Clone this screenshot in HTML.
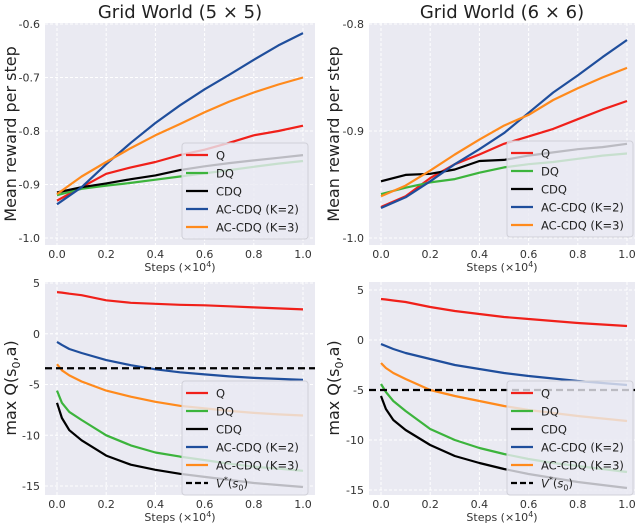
<!DOCTYPE html>
<html><head><meta charset="utf-8"><style>
body{margin:0;background:#fff}
svg{display:block;font-family:"DejaVu Sans","Liberation Sans",sans-serif}
</style></head><body>
<svg id="c" width="640" height="526" viewBox="0 0 640 526"></svg>
<script>
const topSteps=[0,0.1,0.2,0.3,0.4,0.5,0.6,0.7,0.8,0.9,1.0];
const botSteps=[0,0.02,0.05,0.1,0.2,0.3,0.4,0.5,0.6,0.7,0.8,0.9,1.0];
const xTickLabels=["0.0","0.2","0.4","0.6","0.8","1.0"];
const seriesNames=["Q","DQ","CDQ","AC-CDQ (K=2)","AC-CDQ (K=3)"];
// top-left Grid World 5x5
const tl_Q=[-0.93,-0.905,-0.88,-0.868,-0.858,-0.845,-0.835,-0.822,-0.808,-0.8,-0.79];
const tl_DQ=[-0.92,-0.908,-0.902,-0.897,-0.891,-0.885,-0.879,-0.873,-0.867,-0.861,-0.856];
const tl_CDQ=[-0.915,-0.905,-0.898,-0.89,-0.883,-0.873,-0.866,-0.86,-0.855,-0.85,-0.845];
const tl_AC2=[-0.937,-0.905,-0.862,-0.822,-0.785,-0.752,-0.722,-0.695,-0.667,-0.64,-0.617];
const tl_AC3=[-0.918,-0.885,-0.858,-0.832,-0.808,-0.787,-0.765,-0.745,-0.728,-0.713,-0.7];
const tl_yTicks=["-0.6","-0.7","-0.8","-0.9","-1.0"];
// top-right Grid World 6x6
const tr_Q=[-0.971,-0.961,-0.944,-0.931,-0.922,-0.912,-0.905,-0.898,-0.889,-0.88,-0.872];
const tr_DQ=[-0.959,-0.953,-0.948,-0.945,-0.939,-0.934,-0.931,-0.929,-0.926,-0.923,-0.921];
const tr_CDQ=[-0.947,-0.941,-0.94,-0.936,-0.928,-0.927,-0.923,-0.92,-0.917,-0.915,-0.912];
const tr_AC2=[-0.972,-0.962,-0.947,-0.931,-0.917,-0.902,-0.883,-0.864,-0.848,-0.831,-0.815];
const tr_AC3=[-0.961,-0.951,-0.937,-0.922,-0.908,-0.895,-0.885,-0.871,-0.86,-0.85,-0.841];
const tr_yTicks=["-0.8","-0.9","-1.0"];
// bottom-left
const bl_Q=[4.1,4.05,3.95,3.8,3.3,3.05,2.95,2.85,2.8,2.7,2.6,2.5,2.4];
const bl_DQ=[-5.6,-6.8,-7.7,-8.5,-10.0,-11.0,-11.7,-12.1,-12.45,-12.8,-13.1,-13.3,-13.5];
const bl_CDQ=[-6.8,-8.3,-9.5,-10.5,-12.0,-12.9,-13.4,-13.8,-14.1,-14.4,-14.7,-14.9,-15.1];
const bl_AC2=[-0.8,-1.1,-1.5,-1.9,-2.6,-3.1,-3.5,-3.8,-4.0,-4.2,-4.35,-4.45,-4.55];
const bl_AC3=[-3.0,-3.6,-4.1,-4.7,-5.6,-6.2,-6.7,-7.1,-7.35,-7.6,-7.8,-7.95,-8.05];
const bl_Vstar=-3.4;
// bottom-right
const br_Q=[4.1,4.05,3.95,3.8,3.3,2.9,2.6,2.3,2.1,1.9,1.7,1.55,1.4];
const br_DQ=[-4.4,-5.2,-6.1,-7.1,-8.9,-10.0,-10.8,-11.4,-11.9,-12.3,-12.6,-12.9,-13.2];
const br_CDQ=[-5.6,-6.9,-8.0,-9.0,-10.5,-11.6,-12.3,-12.9,-13.4,-13.8,-14.2,-14.5,-14.8];
const br_AC2=[-0.4,-0.6,-0.9,-1.3,-1.9,-2.5,-2.9,-3.3,-3.6,-3.85,-4.1,-4.3,-4.5];
const br_AC3=[-2.3,-2.8,-3.3,-3.9,-5.0,-5.6,-6.1,-6.6,-7.0,-7.3,-7.6,-7.85,-8.1];
const br_Vstar=-5.0;
const b_yTicks=["5","0","-5","-10","-15"];

const colors=["#f0201a","#3cb43c","#000000","#1f4e9c","#ff8a1c"];
const NS="http://www.w3.org/2000/svg";
const svg=document.getElementById('c');
function mk(tag,attrs,parent){const e=document.createElementNS(NS,tag);for(const k in attrs)e.setAttribute(k,attrs[k]);(parent||svg).appendChild(e);return e;}

function panel(o){
  const g=mk('g',{});
  
  
  const X=v=>o.x0+(v-0)*(o.x1-o.x0);
  const Y=v=>o.yA+(v-o.vA)*(o.yB-o.yA)/(o.vB-o.vA);
  const bg=mk('rect',{x:o.px,y:o.py,width:o.pw,height:o.ph,fill:'#eaeaf2'},g);
  
  
  xTickLabels.forEach(t=>{const v=parseFloat(t);const x=X(v);
    mk('line',{x1:x,x2:x,y1:o.py,y2:o.py+o.ph,stroke:'#fff','stroke-dasharray':'3,2','stroke-width':1},g);
    const tx=mk('text',{x:x,y:o.py+o.ph+13,'font-size':11,fill:'#333','text-anchor':'middle'},g);tx.textContent=t;
    
    
  });
  o.yTicks.forEach(t=>{const v=parseFloat(t);const y=Y(v);
    mk('line',{x1:o.px,x2:o.px+o.pw,y1:y,y2:y,stroke:'#fff','stroke-dasharray':'3,2','stroke-width':1},g);
    const tx=mk('text',{x:o.px-5,y:y+4,'font-size':11,fill:'#333','text-anchor':'end'},g);
    tx.textContent=t;
    
    
  });
  o.series.forEach((s,i)=>{
    const d=s.map((v,j)=>(j?'L':'M')+X(o.xs[j]).toFixed(1)+','+Y(v).toFixed(1)).join(' ');
    const p=mk('path',{d:d,fill:'none',stroke:colors[i],'stroke-width':2.2,'stroke-linejoin':'round'},g);
    
    
  });
  if(o.vstar!==undefined){
    const p=mk('line',{x1:o.px,x2:o.px+o.pw,y1:Y(o.vstar),y2:Y(o.vstar),stroke:'#000','stroke-width':2.2,'stroke-dasharray':'7,4'},g);
    
    
  }
  const lg=mk('g',{},g);
  
  
  const n=o.vstar!==undefined?6:5;
  mk('rect',{x:o.lx,y:o.ly,width:126,height:n*18+6,rx:3,fill:'#eaeaf2','fill-opacity':0.8,stroke:'#d0d0d8'},lg);
  for(let i=0;i<n;i++){const y=o.ly+12+i*18;
    const l=mk('line',{x1:o.lx+4,x2:o.lx+26,y1:y,y2:y,stroke:i<5?colors[i]:'#000','stroke-width':2.2},lg);
    if(i==5)l.setAttribute('stroke-dasharray','6,3');
    const t=mk('text',{x:o.lx+34,y:y+4.5,'font-size':11.5,fill:'#222'},lg);
    if(i<5)t.textContent=seriesNames[i];else t.innerHTML='<tspan font-style="italic">V</tspan><tspan font-size="8" dy="-5">*</tspan><tspan dy="5">(</tspan><tspan font-style="italic">s</tspan><tspan font-size="8" dy="3">0</tspan><tspan dy="-3">)</tspan>';
    
    
  }
  const xl=mk('text',{x:(o.px+o.px+o.pw)/2,y:o.py+o.ph+26,'font-size':11,fill:'#333','text-anchor':'middle'},g);
  xl.innerHTML='Steps (×10<tspan font-size="8" dy="-4">4</tspan><tspan dy="4">)</tspan>';
  
  
}

panel({name:'panel-5x5-reward',px:45,py:23,pw:270,ph:222,x0:57,x1:303,yA:24,vA:-0.6,yB:238,vB:-1.0,yTicks:tl_yTicks,xs:topSteps,series:[tl_Q,tl_DQ,tl_CDQ,tl_AC2,tl_AC3],lx:182,ly:143});
panel({name:'panel-6x6-reward',px:369,py:23,pw:266,ph:222,x0:381,x1:627,yA:24,vA:-0.8,yB:238,vB:-1.0,yTicks:tr_yTicks,xs:topSteps,series:[tr_Q,tr_DQ,tr_CDQ,tr_AC2,tr_AC3],lx:507,ly:141});
panel({name:'panel-5x5-q',px:45,py:282,pw:270,ph:213,x0:57,x1:303,yA:283,vA:5,yB:486,vB:-15,yTicks:b_yTicks,xs:botSteps,series:[bl_Q,bl_DQ,bl_CDQ,bl_AC2,bl_AC3],vstar:bl_Vstar,lx:182,ly:381});
panel({name:'panel-6x6-q',px:369,py:282,pw:266,ph:213,x0:381,x1:627,yA:290,vA:5,yB:490,vB:-15,yTicks:b_yTicks,xs:botSteps,series:[br_Q,br_DQ,br_CDQ,br_AC2,br_AC3],vstar:br_Vstar,lx:507,ly:381});

function txt(s,x,y,size,name,rot,html){const t=mk('text',{x:x,y:y,'font-size':size,fill:'#222','text-anchor':'middle'});
  if(rot)t.setAttribute('transform','rotate(-90 '+x+' '+y+')');
  if(html)t.innerHTML=s;else t.textContent=s;
  
  }
txt('Grid World (5 × 5)',180,18,18,'title-5x5');
txt('Grid World (6 × 6)',502,18,18,'title-6x6');
txt('Mean reward per step',16,134,16,'y-axis-title-reward',true);
txt('Mean reward per step',339,134,16,'y-axis-title-reward',true);
txt('max Q(s<tspan font-size="11" dy="4">0</tspan><tspan dy="-4">,a)</tspan>',16,388,16,'y-axis-title-q',true,true);
txt('max Q(s<tspan font-size="11" dy="4">0</tspan><tspan dy="-4">,a)</tspan>',339,388,16,'y-axis-title-q',true,true);
</script>
</body></html>
